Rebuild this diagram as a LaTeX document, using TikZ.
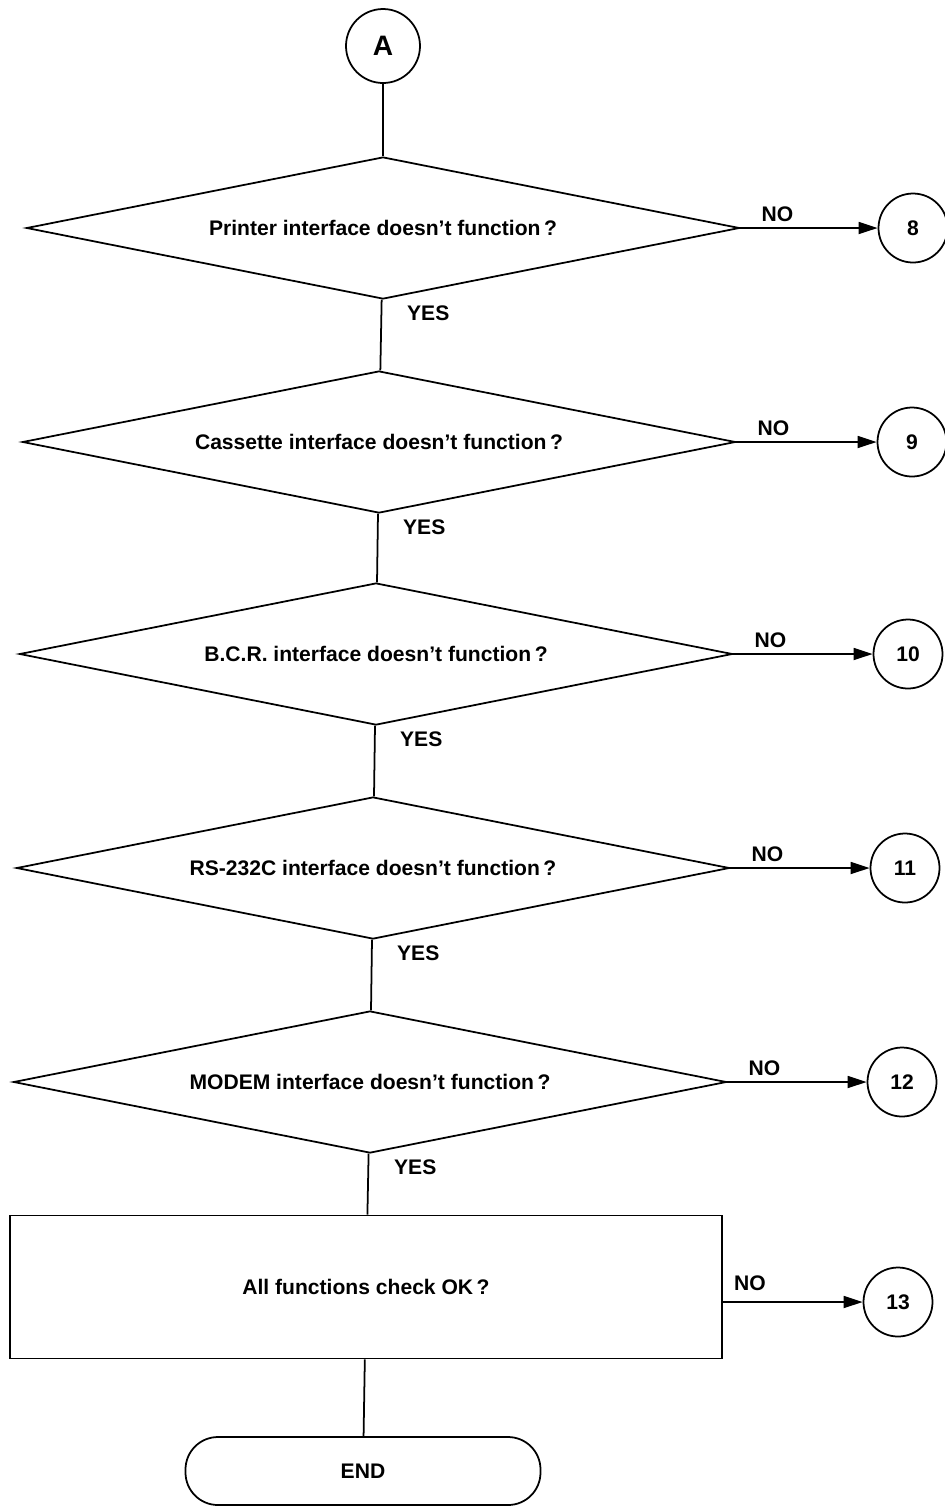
\documentclass[tikz,border=0pt]{standalone}
\usepackage{fontspec}
\setmainfont{Liberation Sans}
\usetikzlibrary{arrows.meta,shapes.geometric}

\begin{document}
\begin{tikzpicture}[
    line width=1pt,
    txt/.style={font=\fontsize{12}{14}\selectfont\bfseries},
    decision/.style={draw, diamond, aspect=5, inner sep=0pt, minimum width=14.26cm, minimum height=2.84cm, txt},
    checkbox/.style={draw, rectangle, minimum width=14.24cm, minimum height=2.86cm, txt},
    terminal/.style={draw, rectangle, rounded corners=0.65cm, minimum width=7.1cm, minimum height=1.36cm, txt},
    connector/.style={draw, circle, minimum size=1.38cm, inner sep=0pt, txt},
    noarr/.style={-{Triangle[length=0.38cm, width=0.24cm]}},
    nolabel/.style={txt, anchor=south west, inner sep=3pt, pos=0},
    yeslabel/.style={txt, anchor=north west, inner sep=3pt}
]
\useasboundingbox (0,0) rectangle (18.9,-30.18);

\node[connector, minimum size=1.48cm, font=\fontsize{16}{18}\selectfont\bfseries] (c-a) at (7.66,-0.92) {A};

\node[decision] (d-printer) at (7.66,-4.56) {Printer interface doesn't function\,?};
\node[decision] (d-cassette) at (7.58,-8.84) {Cassette interface doesn't function\,?};
\node[decision] (d-bcr) at (7.52,-13.08) {B.C.R. interface doesn't function\,?};
\node[decision] (d-rs) at (7.46,-17.36) {RS-232C interface doesn't function\,?};
\node[decision] (d-modem) at (7.40,-21.64) {MODEM interface doesn't function\,?};
\node[checkbox] (b-all) at (7.32,-25.74) {All functions check OK\,?};
\node[terminal] (t-end) at (7.26,-29.42) {END};

\node[connector] (c-8) at (18.26,-4.56) {8};
\node[connector] (c-9) at (18.24,-8.84) {9};
\node[connector] (c-10) at (18.16,-13.08) {10};
\node[connector] (c-11) at (18.10,-17.36) {11};
\node[connector] (c-12) at (18.04,-21.64) {12};
\node[connector] (c-13) at (17.96,-26.04) {13};

% main line (YES branch)
\foreach \a/\b in {c-a/d-printer, d-printer/d-cassette, d-cassette/d-bcr, d-bcr/d-rs, d-rs/d-modem, d-modem/b-all, b-all/t-end}
    \draw (\a) -- (\b);
\foreach \d in {d-printer, d-cassette, d-bcr, d-rs, d-modem}
    \node[yeslabel] at ([xshift=0.36cm]\d.south) {YES};

% NO branches
\foreach \d/\c in {d-printer/c-8, d-cassette/c-9, d-bcr/c-10, d-rs/c-11, d-modem/c-12}
    \draw[noarr] (\d.east) -- (\c) node[nolabel, xshift=0.3cm] {NO};
\draw[noarr] (b-all.east |- c-13) -- (c-13) node[nolabel, xshift=0.1cm, yshift=0.1cm] {NO};
\end{tikzpicture}
\end{document}
